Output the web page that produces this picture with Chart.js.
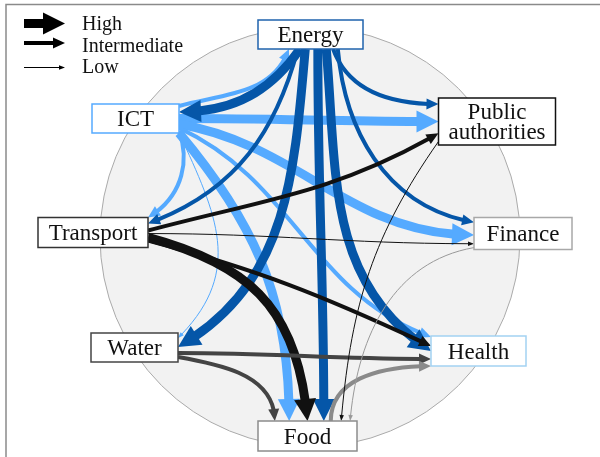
<!DOCTYPE html>
<html>
<head>
<meta charset="utf-8">
<script src="https://cdn.jsdelivr.net/npm/chart.js@4.4.1/dist/chart.umd.min.js"></script>
<style>
    html, body { margin: 0; padding: 0; background: #ffffff; }
    #wrap { width: 600px; height: 457px; }
    .preload { font-family: "Liberation Serif"; position: absolute; left: -999px; }
</style>
</head>
<body>
<span class="preload">Energy</span>
<div id="wrap"><canvas id="chart" width="600" height="457"></canvas></div>
<script>
// Sektoren (Knoten) und ihre Abhängigkeiten (Kanten)
const nodeKeys = ['E', 'PA', 'F', 'H', 'Fo', 'W', 'T', 'I'];
const nodeLabels = [['Energy'], ['Public', 'authorities'], ['Finance'], ['Health'], ['Food'], ['Water'], ['Transport'], ['ICT']];

const linkFrom = ['I', 'I', 'I', 'I', 'I', 'I', 'I',
    'E', 'E', 'E', 'E', 'E', 'E', 'E',
    'T', 'T', 'T', 'T', 'W', 'W', 'Fo', 'PA', 'F'];
const linkTo = ['E', 'PA', 'F', 'H', 'T', 'W', 'Fo',
    'I', 'PA', 'T', 'F', 'W', 'Fo', 'H',
    'PA', 'F', 'Fo', 'H', 'H', 'Fo', 'H', 'Fo', 'Fo'];
const linkLevel = ['Intermediate', 'High', 'High', 'Intermediate', 'Intermediate', 'Low', 'High',
    'High', 'Intermediate', 'Intermediate', 'Intermediate', 'High', 'High', 'High',
    'Intermediate', 'Low', 'High', 'Intermediate', 'Intermediate', 'Intermediate', 'Intermediate', 'Low', 'Low'];

const levelNames = ['High', 'Intermediate', 'Low'];

// Layout
const nodeLayout = {
    E:  { x: 310.5, y: 34.5,  w: 105, h: 29, border: '#1f63ad' },
    PA: { x: 497,   y: 121.5, w: 117, h: 47, border: '#111111' },
    F:  { x: 523,   y: 233.5, w: 98,  h: 32, border: '#a8a8a8' },
    H:  { x: 478.5, y: 351,   w: 95,  h: 30, border: '#a3d2f2' },
    Fo: { x: 307.5, y: 436,   w: 99,  h: 30, border: '#8c8c8c' },
    W:  { x: 134.5, y: 347.5, w: 87,  h: 29, border: '#444444' },
    T:  { x: 93,    y: 232.5, w: 110, h: 30, border: '#333333' },
    I:  { x: 135.5, y: 118.5, w: 87,  h: 29, border: '#55aaff' }
};
const linkColor = { E: '#0556a8', I: '#55aaff', T: '#111111', W: '#444444', Fo: '#8a8a8a', PA: '#111111', F: '#999999' };
const levelStyle = {
    High: { width: 9, headLen: 22, headWidth: 22 },
    Intermediate: { width: 4, headLen: 12, headWidth: 11 },
    Low: { width: 1, headLen: 6, headWidth: 4.5 }
};
// [Seite, Position] am Start, [Seite, Position] am Ziel, Winkel aus, Winkel ein, Lockerheit
const linkRoute = [
    [['r', -0.86], ['b', -0.41], 15, 250, 1],
    [['r', 0], ['l', 0], 0, 180, 1],
    [['r', 0.38], ['l', 0.1], 350, 180, 1],
    [['r', 0.65], ['l', -0.93], 335, 160, 1],
    [['r', 0.86], ['r', -1], 290, 30, 1],
    [['r', 1], ['r', -0.65], 295, 45, 1.15],
    [['r', 1], ['t', -0.37], 310, 90, 1],
    [['b', -0.2], ['r', -0.45], 235, 0, 1],
    [['b', 0.43], ['l', -0.74], 290, 180, 1],
    [['b', -0.24], ['r', -0.6], 255, 20, 1],
    [['b', 0.52], ['l', -0.7], 275, 170, 1],
    [['b', -0.1], ['r', -0.03], 265, 30, 1],
    [['b', 0.14], ['t', 0.33], 270, 90, 1],
    [['b', 0.3], ['l', 0], 275, 147, 1],
    [['r', -0.13], ['l', 0.5], 15, 210, 1],
    [['r', 0.07], ['l', 0.64], 0, 180, 1],
    [['r', 0.33], ['t', 0], 345, 95, 1.15],
    [['r', 0.53], ['l', -0.33], 345, 155, 1],
    [['r', 0.38], ['l', 0.53], 0, 180, 1],
    [['r', 0.65], ['t', -0.66], 350, 90, 1],
    [['t', 0.47], ['l', 1], 90, 180, 1],
    [['l', 0.85], ['t', 0.68], 235, 85, 1],
    [['l', 0.88], ['t', 0.86], 190, 85, 1]
];
const circleCenter = { x: 310, y: 237 };
const circleRadius = 210;
const nodeFont = '23px "Liberation Serif", "Times New Roman", "DejaVu Serif", serif';
const legendFont = '20px "Liberation Serif", "Times New Roman", "DejaVu Serif", serif';

function lerp(a, b, t)
{
    return { x: a.x + (b.x - a.x) * t, y: a.y + (b.y - a.y) * t };
}

function bezierAt(p, t)
{
    const a = lerp(p[0], p[1], t), b = lerp(p[1], p[2], t), c = lerp(p[2], p[3], t);
    const d = lerp(a, b, t), e = lerp(b, c, t);
    return lerp(d, e, t);
}

function bezierHead(p, t)
{
    // erster Teil einer Kurve bis t (de Casteljau)
    const a = lerp(p[0], p[1], t), b = lerp(p[1], p[2], t), c = lerp(p[2], p[3], t);
    const d = lerp(a, b, t), e = lerp(b, c, t);
    return [p[0], a, d, lerp(d, e, t)];
}

function portPoint(chart, key, port)
{
    const n = nodeLayout[key];
    const side = port[0], f = port[1];
    let x = n.x, y = n.y;
    if (side === 'l') { x -= n.w / 2; y += f * n.h / 2; }
    if (side === 'r') { x += n.w / 2; y += f * n.h / 2; }
    if (side === 't') { y -= n.h / 2; x += f * n.w / 2; }
    if (side === 'b') { y += n.h / 2; x += f * n.w / 2; }
    return { x: chart.scales.x.getPixelForValue(x), y: chart.scales.y.getPixelForValue(y) };
}

function drawArrowHead(ctx, tip, from, style, color)
{
    const dx = tip.x - from.x, dy = tip.y - from.y;
    const len = Math.hypot(dx, dy) || 1;
    const ux = dx / len, uy = dy / len;
    const bx = tip.x - ux * style.headLen, by = tip.y - uy * style.headLen;
    ctx.fillStyle = color;
    ctx.beginPath();
    ctx.moveTo(tip.x, tip.y);
    ctx.lineTo(bx - uy * style.headWidth / 2, by + ux * style.headWidth / 2);
    ctx.lineTo(bx + uy * style.headWidth / 2, by - ux * style.headWidth / 2);
    ctx.closePath();
    ctx.fill();
}

function drawLink(chart, i)
{
    const ctx = chart.ctx;
    const route = linkRoute[i];
    const style = levelStyle[linkLevel[i]];
    const color = linkColor[linkFrom[i]];
    const p0 = portPoint(chart, linkFrom[i], route[0]);
    const p3 = portPoint(chart, linkTo[i], route[1]);
    const d = 0.3915 * route[4] * Math.hypot(p3.x - p0.x, p3.y - p0.y);
    const ao = route[2] * Math.PI / 180, ai = route[3] * Math.PI / 180;
    const p1 = { x: p0.x + d * Math.cos(ao), y: p0.y - d * Math.sin(ao) };
    const p2 = { x: p3.x + d * Math.cos(ai), y: p3.y - d * Math.sin(ai) };
    const curve = [p0, p1, p2, p3];

    // Linie endet in der Pfeilspitze
    const back = style.headLen * 0.85;
    let t = 1;
    while (t > 0 && Math.hypot(bezierAt(curve, t).x - p3.x, bezierAt(curve, t).y - p3.y) < back)
    {
        t -= 0.002;
    }
    const part = bezierHead(curve, t);
    ctx.strokeStyle = color;
    ctx.lineWidth = style.width;
    ctx.lineCap = 'butt';
    ctx.beginPath();
    ctx.moveTo(part[0].x, part[0].y);
    ctx.bezierCurveTo(part[1].x, part[1].y, part[2].x, part[2].y, part[3].x, part[3].y);
    ctx.stroke();
    drawArrowHead(ctx, p3, part[3], style, color);
}

function drawNodes(chart)
{
    const ctx = chart.ctx;
    const sx = v => chart.scales.x.getPixelForValue(v);
    const sy = v => chart.scales.y.getPixelForValue(v);
    nodeKeys.forEach((key, i) =>
    {
        const n = nodeLayout[key];
        const left = sx(n.x - n.w / 2), top = sy(n.y - n.h / 2);
        const w = sx(n.x + n.w / 2) - left, h = sy(n.y + n.h / 2) - top;
        ctx.fillStyle = '#ffffff';
        ctx.fillRect(left, top, w, h);
        ctx.strokeStyle = n.border;
        ctx.lineWidth = 1.5;
        ctx.strokeRect(left, top, w, h);

        ctx.fillStyle = '#111111';
        ctx.font = nodeFont;
        ctx.textAlign = 'center';
        ctx.textBaseline = 'alphabetic';
        const lines = nodeLabels[i];
        const lineH = 19.5;
        lines.forEach((line, j) =>
        {
            const off = (j - (lines.length - 1) / 2) * lineH;
            ctx.fillText(line, sx(n.x), sy(n.y) + 7.6 + off);
        });
    });
}

function drawLegend(chart)
{
    const ctx = chart.ctx;
    const rows = [23.5, 43, 67.5];
    const textRows = [29.5, 51.5, 73];
    levelNames.forEach((name, i) =>
    {
        const style = levelStyle[name];
        const y = rows[i];
        const tip = { x: 65, y: y };
        ctx.strokeStyle = '#000000';
        ctx.lineWidth = style.width;
        ctx.beginPath();
        ctx.moveTo(24, y);
        ctx.lineTo(65 - style.headLen * 0.85, y);
        ctx.stroke();
        drawArrowHead(ctx, tip, { x: 24, y: y }, style, '#000000');
        ctx.fillStyle = '#111111';
        ctx.font = legendFont;
        ctx.textAlign = 'left';
        ctx.textBaseline = 'alphabetic';
        ctx.fillText(name, 82, textRows[i]);
    });
}

const networkPlugin = {
    id: 'network',
    beforeDatasetsDraw(chart)
    {
        const ctx = chart.ctx;
        const sx = v => chart.scales.x.getPixelForValue(v);
        const sy = v => chart.scales.y.getPixelForValue(v);
        ctx.save();

        // Rahmen
        ctx.strokeStyle = '#8a8a8a';
        ctx.lineWidth = 1.5;
        ctx.beginPath();
        ctx.moveTo(6, 457);
        ctx.lineTo(6, 4.5);
        ctx.lineTo(600, 4.5);
        ctx.stroke();

        // Hintergrundkreis
        const cx = sx(circleCenter.x), cy = sy(circleCenter.y);
        const r = sx(circleCenter.x + circleRadius) - cx;
        ctx.fillStyle = '#f2f2f2';
        ctx.strokeStyle = '#aaaaaa';
        ctx.lineWidth = 1;
        ctx.beginPath();
        ctx.arc(cx, cy, r, 0, Math.PI * 2);
        ctx.fill();
        ctx.stroke();

        for (let i = 0; i < linkFrom.length; i++)
        {
            drawLink(chart, i);
        }
        drawNodes(chart);
        drawLegend(chart);
        ctx.restore();
    }
};

function buildChart()
{
    new Chart(document.getElementById('chart'), {
        type: 'scatter',
        data: {
            datasets: [{
                data: nodeKeys.map(k => ({ x: nodeLayout[k].x, y: nodeLayout[k].y })),
                pointRadius: 0,
                pointHoverRadius: 0
            }]
        },
        options: {
            responsive: false,
            animation: false,
            events: [],
            layout: { padding: 0 },
            scales: {
                x: { type: 'linear', min: 0, max: 600, display: false },
                y: { type: 'linear', min: 0, max: 457, reverse: true, display: false }
            },
            plugins: {
                legend: { display: false },
                tooltip: { enabled: false }
            }
        },
        plugins: [networkPlugin]
    });
}

document.fonts.load('23px "Liberation Serif"')
    .catch(() => null)
    .then(() => buildChart());
</script>
</body>
</html>
